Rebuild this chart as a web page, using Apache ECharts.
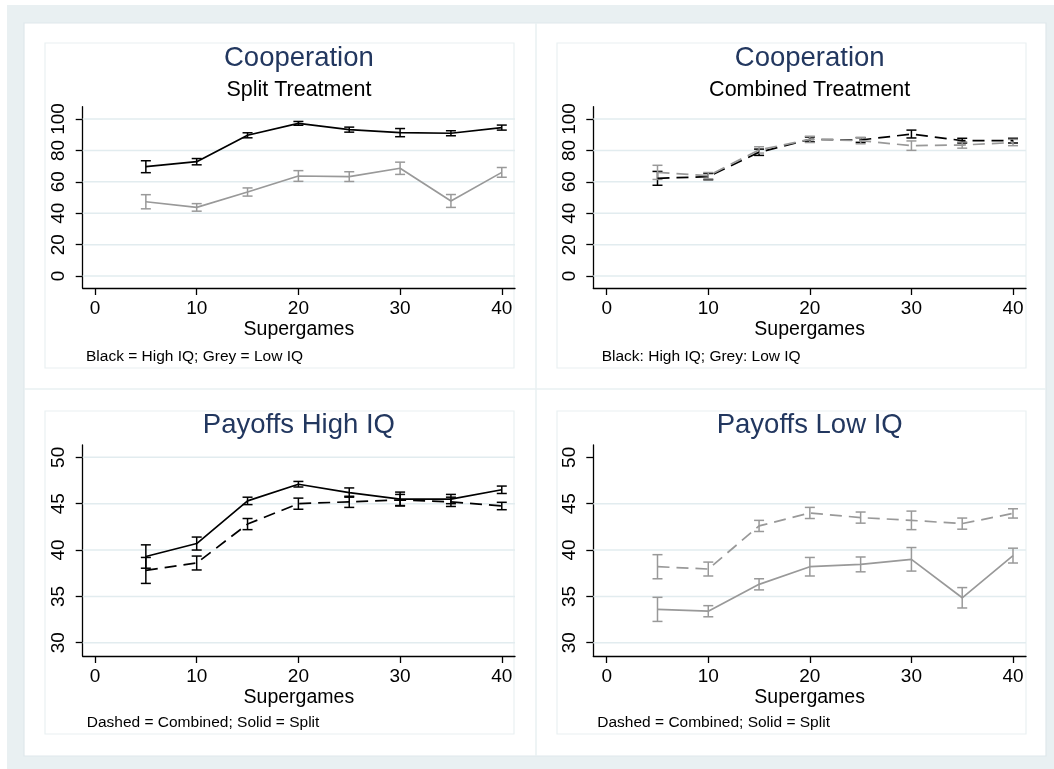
<!DOCTYPE html>
<html>
<head>
<meta charset="utf-8">
<script src="https://cdn.jsdelivr.net/npm/echarts@6/dist/echarts.min.js"></script>
<style>
  html, body { margin: 0; padding: 0; background: #ffffff; }
  #chart { width: 1054px; height: 769px; }
</style>
</head>
<body>
<div id="chart"></div>
<script>
// Supergame blocks on the x axis
const supergames = [5, 10, 15, 20, 25, 30, 35, 40];
const xTicks = [0, 10, 20, 30, 40];
const coopTicks = [0, 20, 40, 60, 80, 100];
const payTicks = [30, 35, 40, 45, 50];
const payGridLowIQ = [30, 35, 40, 45];

// Cooperation (%) - split treatment
const coopSplitHigh    = [69.6, 72.8, 89.6, 97.2, 93.2, 91.3, 90.9, 94.5];
const coopSplitHighErr = [3.8, 2.0, 1.6, 1.2, 1.6, 2.6, 1.6, 1.6];
const coopSplitLow     = [47.3, 43.7, 53.5, 63.7, 63.3, 68.6, 47.8, 66.0];
const coopSplitLowErr  = [4.5, 2.4, 2.6, 3.4, 3.1, 3.9, 4.1, 3.1];

// Cooperation (%) - combined treatment
const coopCombHigh    = [62.2, 63.3, 78.8, 87.0, 86.6, 90.4, 86.2, 86.2];
const coopCombHighErr = [4.4, 2.0, 2.0, 1.5, 1.5, 2.5, 1.5, 1.5];
const coopCombLow     = [66.0, 63.9, 80.3, 87.0, 86.2, 83.0, 83.4, 85.0];
const coopCombLowErr  = [4.5, 2.0, 2.0, 2.0, 2.0, 3.0, 2.0, 2.0];

// Payoffs, high IQ subjects
const payHighSplit    = [39.3, 40.7, 45.3, 47.1, 46.2, 45.5, 45.5, 46.5];
const payHighSplitErr = [1.26, 0.7, 0.4, 0.3, 0.5, 0.75, 0.5, 0.4];
const payHighComb     = [37.8, 38.6, 42.8, 45.0, 45.2, 45.4, 45.2, 44.75];
const payHighCombErr  = [1.4, 0.75, 0.6, 0.6, 0.6, 0.6, 0.5, 0.4];

// Payoffs, low IQ subjects
const payLowComb     = [38.2, 37.95, 42.6, 44.0, 43.5, 43.2, 42.85, 43.95];
const payLowCombErr  = [1.3, 0.75, 0.6, 0.6, 0.6, 1.0, 0.6, 0.5];
const payLowSplit    = [33.6, 33.4, 36.3, 38.2, 38.45, 39.0, 34.85, 39.4];
const payLowSplitErr = [1.3, 0.6, 0.6, 1.0, 0.8, 1.27, 1.1, 0.8];

const FONT = '"Liberation Sans", Arial, Helvetica, sans-serif';
const BLACK = '#000000';
const GREY = '#999999';
const NAVY = '#22375f';
const GRIDLINE = '#e2ecef';
const FRAME = '#dfe8eb';
const INNER = '#e9f0f2';
const DASH = [12, 7];

const panels = [
  {
    grid: { left: 82.7, top: 106.7, width: 432.3, height: 181.3 },
    xRange: [-1.21, 41.3], yRange: [-7.6, 107.8], yTicks: coopTicks, gridVals: coopTicks,
    lines: [
      { values: coopSplitHigh, err: coopSplitHighErr, color: BLACK, dashed: false },
      { values: coopSplitLow, err: coopSplitLowErr, color: GREY, dashed: false }
    ]
  },
  {
    grid: { left: 593.3, top: 106.7, width: 432.7, height: 181.3 },
    xRange: [-1.32, 41.28], yRange: [-7.6, 107.8], yTicks: coopTicks, gridVals: coopTicks,
    lines: [
      { values: coopCombHigh, err: coopCombHighErr, color: BLACK, dashed: true },
      { values: coopCombLow, err: coopCombLowErr, color: GREY, dashed: true }
    ]
  },
  {
    grid: { left: 82.7, top: 445, width: 432.3, height: 211 },
    xRange: [-1.21, 41.3], yRange: [28.57, 51.33], yTicks: payTicks, gridVals: payTicks,
    lines: [
      { values: payHighSplit, err: payHighSplitErr, color: BLACK, dashed: false },
      { values: payHighComb, err: payHighCombErr, color: BLACK, dashed: true }
    ]
  },
  {
    grid: { left: 593.3, top: 445, width: 432.7, height: 211 },
    xRange: [-1.32, 41.28], yRange: [28.57, 51.33], yTicks: payTicks, gridVals: payGridLowIQ,
    lines: [
      { values: payLowComb, err: payLowCombErr, color: GREY, dashed: true },
      { values: payLowSplit, err: payLowSplitErr, color: GREY, dashed: false }
    ]
  }
];

const grids = [], xAxes = [], yAxes = [], series = [];

panels.forEach((p, i) => {
  grids.push(Object.assign({ outerBoundsMode: 'none', containLabel: false }, p.grid));

  xAxes.push({
    gridIndex: i, type: 'value', min: p.xRange[0], max: p.xRange[1],
    axisLine: { show: true, onZero: false, lineStyle: { color: BLACK, width: 1.3 } },
    axisTick: { show: true, customValues: xTicks, length: 7, lineStyle: { color: BLACK, width: 1.3 } },
    axisLabel: { customValues: xTicks, margin: 11, fontSize: 19, color: BLACK, fontFamily: FONT },
    splitLine: { show: false },
    name: 'Supergames', nameLocation: 'middle', nameGap: 32,
    nameTextStyle: { fontSize: 19.5, color: BLACK, fontFamily: FONT }
  });

  yAxes.push({
    gridIndex: i, type: 'value', min: p.yRange[0], max: p.yRange[1],
    axisLine: { show: true, onZero: false, lineStyle: { color: BLACK, width: 1.3 } },
    axisTick: { show: true, customValues: p.yTicks, length: 7, lineStyle: { color: BLACK, width: 1.3 } },
    axisLabel: { customValues: p.yTicks, rotate: 90, margin: 14, fontSize: 19, color: BLACK, fontFamily: FONT },
    splitLine: { show: false }
  });

  // horizontal grid lines
  series.push({
    type: 'custom', xAxisIndex: i, yAxisIndex: i, silent: true, z: 1, clip: false,
    data: p.gridVals.map(v => [0, v]),
    encode: { x: 0, y: 1 },
    renderItem: (params, api) => {
      const cs = params.coordSys;
      const y = api.coord([0, api.value(1)])[1];
      return {
        type: 'line',
        shape: { x1: cs.x, y1: y, x2: cs.x + cs.width, y2: y },
        style: { stroke: GRIDLINE, lineWidth: 1.5 }
      };
    }
  });

  p.lines.forEach(l => {
    // confidence caps
    series.push({
      type: 'custom', xAxisIndex: i, yAxisIndex: i, silent: true, z: 3,
      data: supergames.map((x, k) => [x, l.values[k] - l.err[k], l.values[k] + l.err[k]]),
      encode: { x: 0, y: [1, 2] },
      renderItem: (params, api) => {
        const x = api.value(0);
        const lo = api.coord([x, api.value(1)]);
        const hi = api.coord([x, api.value(2)]);
        const w = 5;
        const st = { stroke: l.color, lineWidth: 1.5 };
        return {
          type: 'group',
          children: [
            { type: 'line', shape: { x1: lo[0], y1: lo[1], x2: hi[0], y2: hi[1] }, style: st },
            { type: 'line', shape: { x1: lo[0] - w, y1: lo[1], x2: lo[0] + w, y2: lo[1] }, style: st },
            { type: 'line', shape: { x1: hi[0] - w, y1: hi[1], x2: hi[0] + w, y2: hi[1] }, style: st }
          ]
        };
      }
    });
    // mean line
    series.push({
      type: 'line', xAxisIndex: i, yAxisIndex: i, z: 4, silent: true,
      data: supergames.map((x, k) => [x, l.values[k]]),
      symbol: 'none', animation: false,
      lineStyle: { color: l.color, width: 1.7, type: l.dashed ? DASH : 'solid' }
    });
  });
});

const txt = (text, x, y, size, color, align) => ({
  type: 'text', x: x, y: y, z: 100,
  style: { text: text, fill: color, fontSize: size, fontFamily: FONT, align: align || 'center', verticalAlign: 'middle' }
});
const box = (x, y, w, h, fill, stroke) => ({
  type: 'rect', z: -10, silent: true,
  shape: { x: x, y: y, width: w, height: h },
  style: { fill: fill, stroke: stroke, lineWidth: 1.2 }
});
const vline = (x1, y1, x2, y2) => ({
  type: 'line', z: -9, silent: true,
  shape: { x1: x1, y1: y1, x2: x2, y2: y2 },
  style: { stroke: INNER, lineWidth: 1.5 }
});

const graphics = [
  box(7, 5, 1047, 764, '#e9f0f2', null),
  box(24, 23, 1022, 733, '#ffffff', FRAME),
  vline(536, 23, 536, 756),
  vline(24, 389, 1046, 389),
  box(45, 43, 469, 325, null, INNER),
  box(557, 43, 469, 325, null, INNER),
  box(45, 411, 469, 323, null, INNER),
  box(557, 411, 469, 323, null, INNER),

  txt('Cooperation', 298.9, 58.8, 27.5, NAVY),
  txt('Split Treatment', 298.9, 90.5, 21.5, BLACK),
  txt('Cooperation', 809.7, 58.8, 27.5, NAVY),
  txt('Combined Treatment', 809.7, 90.5, 21.5, BLACK),
  txt('Payoffs High IQ', 298.9, 425, 27.5, NAVY),
  txt('Payoffs Low IQ', 809.7, 425, 27.5, NAVY),

  txt('Black = High IQ; Grey = Low IQ', 86, 356.5, 15.5, BLACK, 'left'),
  txt('Black: High IQ; Grey: Low IQ', 601.7, 356.5, 15.5, BLACK, 'left'),
  txt('Dashed = Combined; Solid = Split', 86.7, 722.5, 15.5, BLACK, 'left'),
  txt('Dashed = Combined; Solid = Split', 597.3, 722.5, 15.5, BLACK, 'left')
];

const chart = echarts.init(document.getElementById('chart'), null, { renderer: 'canvas' });
chart.setOption({
  animation: false,
  backgroundColor: 'transparent',
  textStyle: { fontFamily: FONT },
  grid: grids,
  xAxis: xAxes,
  yAxis: yAxes,
  series: series,
  graphic: { elements: graphics }
});
</script>
</body>
</html>
